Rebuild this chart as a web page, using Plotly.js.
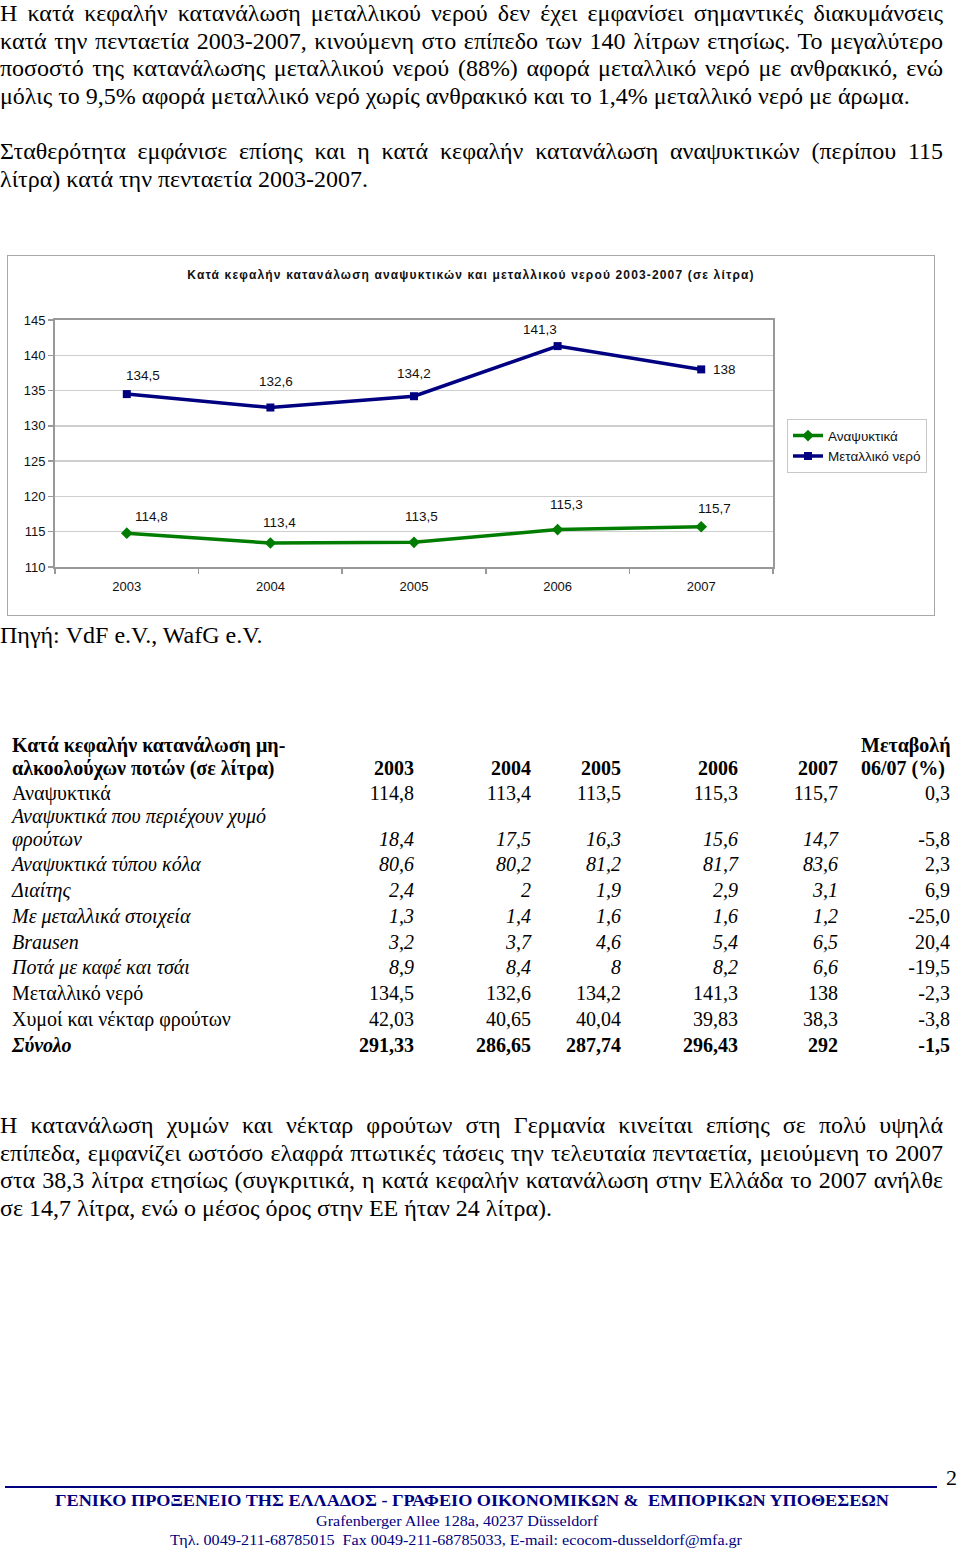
<!DOCTYPE html>
<html>
<head>
<meta charset="utf-8">
<script src="https://cdn.plot.ly/plotly-3.0.1.min.js"></script>
<style>
  html, body { margin:0; padding:0; background:#fff; }
  body { width:960px; height:1555px; position:relative; overflow:hidden; font-family:"Liberation Serif","Times New Roman",serif; color:#000; }
  .ln { position:absolute; left:0; width:943px; font-size:24px; line-height:27.7px; height:27.7px; white-space:nowrap; }
  .j { text-align:justify; text-align-last:justify; white-space:normal; }
  .cell { position:absolute; font-size:20px; line-height:23px; white-space:nowrap; }
  .r { text-align:right; }
  #chart { position:absolute; left:7px; top:255px; width:926px; height:359px; border:1.5px solid #a8a8a8; }
  #chart .gtitle { letter-spacing:1.15px; }
  .foot { position:absolute; color:#000080; white-space:nowrap; }
</style>
</head>
<body>
<div id="text1"></div>
<div id="chart"></div>
<div class="ln" style="top:622px;">Πηγή: VdF e.V., WafG e.V.</div>
<div id="table"></div>
<div id="text3"></div>

<div style="position:absolute; left:5px; top:1486px; width:932px; height:2px; background:#000080;"></div>
<div class="foot" style="left:946px; top:1464px; font-size:22px; line-height:28px; color:#000;">2</div>
<div class="foot" id="ftitle" style="left:55px; top:1491px; font-size:16.5px; line-height:20px; font-weight:bold; transform-origin:0 0;">ΓΕΝΙΚΟ ΠΡΟΞΕΝΕΙΟ ΤΗΣ ΕΛΛΑΔΟΣ - ΓΡΑΦΕΙΟ ΟΙΚΟΝΟΜΙΚΩΝ &amp;&nbsp; ΕΜΠΟΡΙΚΩΝ ΥΠΟΘΕΣΕΩΝ</div>
<div class="foot" id="faddr" style="left:316px; top:1512px; font-size:15px; line-height:18px; transform-origin:0 0;">Grafenberger Allee 128a, 40237 Düsseldorf</div>
<div class="foot" id="ftel" style="left:170px; top:1531px; font-size:15px; line-height:18px; transform-origin:0 0;">Τηλ. 0049-211-68785015&nbsp; Fax 0049-211-68785033, E-mail: ecocom-dusseldorf@mfa.gr</div>

<script>
// ---------- Chart data ----------
const years = ['2003', '2004', '2005', '2006', '2007'];
const softDrinks = [114.8, 113.4, 113.5, 115.3, 115.7];
const mineralWater = [134.5, 132.6, 134.2, 141.3, 138];
const chartTitle = 'Κατά κεφαλήν κατανάλωση αναψυκτικών και μεταλλικού νερού 2003-2007 (σε λίτρα)';
const seriesNames = ['Αναψυκτικά', 'Μεταλλικό νερό'];
const yTicks = [110, 115, 120, 125, 130, 135, 140, 145];

// ---------- Table data ----------
const tableHeaderLabel = ['Κατά κεφαλήν κατανάλωση μη-', 'αλκοολούχων ποτών (σε λίτρα)'];
const tableYears = ['2003', '2004', '2005', '2006', '2007'];
const tableChangeHeader = ['Μεταβολή', '06/07 (%)'];
const rowLabels = [
  ['Αναψυκτικά'],
  ['Αναψυκτικά που περιέχουν χυμό', 'φρούτων'],
  ['Αναψυκτικά τύπου κόλα'],
  ['Διαίτης'],
  ['Με μεταλλικά στοιχεία'],
  ['Brausen'],
  ['Ποτά με καφέ και τσάι'],
  ['Μεταλλικό νερό'],
  ['Χυμοί και νέκταρ φρούτων'],
  ['Σύνολο']
];
const col2003 = ['114,8', '18,4', '80,6', '2,4', '1,3', '3,2', '8,9', '134,5', '42,03', '291,33'];
const col2004 = ['113,4', '17,5', '80,2', '2', '1,4', '3,7', '8,4', '132,6', '40,65', '286,65'];
const col2005 = ['113,5', '16,3', '81,2', '1,9', '1,6', '4,6', '8', '134,2', '40,04', '287,74'];
const col2006 = ['115,3', '15,6', '81,7', '2,9', '1,6', '5,4', '8,2', '141,3', '39,83', '296,43'];
const col2007 = ['115,7', '14,7', '83,6', '3,1', '1,2', '6,5', '6,6', '138', '38,3', '292'];
const colChange = ['0,3', '-5,8', '2,3', '6,9', '-25,0', '20,4', '-19,5', '-2,3', '-3,8', '-1,5'];
const rowStyle = ['n', 'i', 'i', 'i', 'i', 'i', 'i', 'n', 'n', 't'];

// ---------- Paragraphs ----------
const para1 = [
  'Η κατά κεφαλήν κατανάλωση μεταλλικού νερού δεν έχει εμφανίσει σημαντικές διακυμάνσεις',
  'κατά την πενταετία 2003-2007, κινούμενη στο επίπεδο των 140 λίτρων ετησίως. Το μεγαλύτερο',
  'ποσοστό της κατανάλωσης μεταλλικού νερού (88%) αφορά μεταλλικό νερό με ανθρακικό, ενώ',
  'μόλις το 9,5% αφορά μεταλλικό νερό χωρίς ανθρακικό και το 1,4% μεταλλικό νερό με άρωμα.'
];
const para2 = [
  'Σταθερότητα εμφάνισε επίσης και η κατά κεφαλήν κατανάλωση αναψυκτικών (περίπου 115',
  'λίτρα) κατά την πενταετία 2003-2007.'
];
const para3 = [
  'Η κατανάλωση χυμών και νέκταρ φρούτων στη Γερμανία κινείται επίσης σε πολύ υψηλά',
  'επίπεδα, εμφανίζει ωστόσο ελαφρά πτωτικές τάσεις την τελευταία πενταετία, μειούμενη το 2007',
  'στα 38,3 λίτρα ετησίως (συγκριτικά, η κατά κεφαλήν κατανάλωση στην Ελλάδα το 2007 ανήλθε',
  'σε 14,7 λίτρα, ενώ ο μέσος όρος στην ΕΕ ήταν 24 λίτρα).'
];

function writePara(container, lines, top) {
  lines.forEach((t, i) => {
    const d = document.createElement('div');
    d.className = 'ln' + (i < lines.length - 1 ? ' j' : '');
    d.style.top = (top + i * 27.7) + 'px';
    d.textContent = t;
    container.appendChild(d);
  });
}
const t1 = document.getElementById('text1');
writePara(t1, para1, 0);
writePara(t1, para2, 138);
writePara(document.getElementById('text3'), para3, 1112);

// ---------- Table ----------
const tbl = document.getElementById('table');
function cell(text, x, yc, opts) {
  const d = document.createElement('div');
  d.className = 'cell' + (opts.right ? ' r' : '');
  d.textContent = text;
  d.style.top = (yc - 11.5) + 'px';
  if (opts.right) { d.style.left = (x - 200) + 'px'; d.style.width = '200px'; }
  else d.style.left = x + 'px';
  if (opts.bold) d.style.fontWeight = 'bold';
  if (opts.italic) d.style.fontStyle = 'italic';
  tbl.appendChild(d);
}
const colRight = [414, 531, 621, 738, 838];
const changeRight = 950;
const labelX = 12;
cell(tableHeaderLabel[0], labelX, 745, {bold: true});
cell(tableHeaderLabel[1], labelX, 768, {bold: true});
tableYears.forEach((y, k) => cell(y, colRight[k], 768, {right: true, bold: true}));
cell(tableChangeHeader[0], 861, 745, {bold: true});
cell(tableChangeHeader[1], 861, 768, {bold: true});
const cols = [col2003, col2004, col2005, col2006, col2007];
let yc = 793;
rowLabels.forEach((lab, i) => {
  const st = rowStyle[i];
  const it = st === 'i';
  lab.forEach((l, j) => {
    cell(l, labelX, yc + j * 23, {italic: it || st === 't', bold: st === 't'});
  });
  const vy = yc + (lab.length - 1) * 23;
  cols.forEach((c, k) => cell(c[i], colRight[k], vy, {right: true, italic: it, bold: st === 't'}));
  cell(colChange[i], changeRight, vy, {right: true, bold: st === 't'});
  yc = vy + (i === 0 ? 23 : 25.75);
});

// ---------- Footer fitting ----------
function fit(id, w) {
  const el = document.getElementById(id);
  const cw = el.getBoundingClientRect().width;
  el.style.transform = 'scaleX(' + (w / cw) + ')';
}
fit('ftitle', 834);
fit('faddr', 282);
fit('ftel', 572);

// ---------- Plotly chart ----------
const fmt = v => String(v).replace('.', ',');
const waterShift = [[16, 19], [6, 26], [0, 23], [-18, 17], [23, 0]];
const softShift = [[25, 17], [9, 21], [7, 26], [9, 25], [13, 18]];
const labelFont = {family: 'Arial, Liberation Sans', size: 13.5, color: '#111'};
const annotations = [];
years.forEach((y, i) => {
  annotations.push({x: i, y: mineralWater[i], xref: 'x', yref: 'y', text: fmt(mineralWater[i]), showarrow: false,
    xshift: waterShift[i][0], yshift: waterShift[i][1], font: labelFont});
  annotations.push({x: i, y: softDrinks[i], xref: 'x', yref: 'y', text: fmt(softDrinks[i]), showarrow: false,
    xshift: softShift[i][0], yshift: softShift[i][1], font: labelFont});
});

const traces = [
  {x: years, y: softDrinks, name: seriesNames[0], type: 'scatter', mode: 'lines+markers',
   line: {color: '#007d00', width: 3.5}, marker: {symbol: 'diamond', size: 9, color: '#007d00'}},
  {x: years, y: mineralWater, name: seriesNames[1], type: 'scatter', mode: 'lines+markers',
   line: {color: '#000080', width: 3.5}, marker: {symbol: 'square', size: 8, color: '#000080'}}
];

const layout = {
  width: 926, height: 359,
  margin: {l: 46.5, r: 160.5, t: 64, b: 47.5, autoexpand: false},
  paper_bgcolor: '#fff', plot_bgcolor: '#fff',
  font: {family: 'Arial, Liberation Sans, sans-serif', size: 13, color: '#111'},
  title: {text: '<b>' + chartTitle + '</b>', x: 0.5, xanchor: 'center', y: 1 - 19 / 359, yanchor: 'middle',
          font: {family: 'Arial, Liberation Sans, sans-serif', size: 12, color: '#111'}},
  xaxis: {type: 'category', range: [-0.5, 4.5], tickson: 'boundaries', ticks: 'outside', ticklen: 5,
          tickcolor: '#999', tickwidth: 1.5, showgrid: false, showline: true, linecolor: '#999', linewidth: 2,
          mirror: true, tickfont: {size: 13}, ticklabelstandoff: 6, fixedrange: true},
  yaxis: {range: [110, 145], tickvals: yTicks, ticks: 'outside', ticklen: 5, tickcolor: '#999', tickwidth: 1.5,
          showgrid: true, gridcolor: '#cfcfcf', gridwidth: 1.5, showline: true, linecolor: '#999', linewidth: 2,
          mirror: true, zeroline: false, tickfont: {size: 13}, fixedrange: true},
  showlegend: true,
  legend: {x: 1.0195, xanchor: 'left', y: 0.598, yanchor: 'top', bgcolor: '#fff', bordercolor: '#c8c8c8',
           borderwidth: 1, font: {size: 13.5, color: '#111'}, tracegroupgap: 0, itemwidth: 30},
  annotations: annotations
};
Plotly.newPlot('chart', traces, layout, {displayModeBar: false, staticPlot: true});
</script>
</body>
</html>
